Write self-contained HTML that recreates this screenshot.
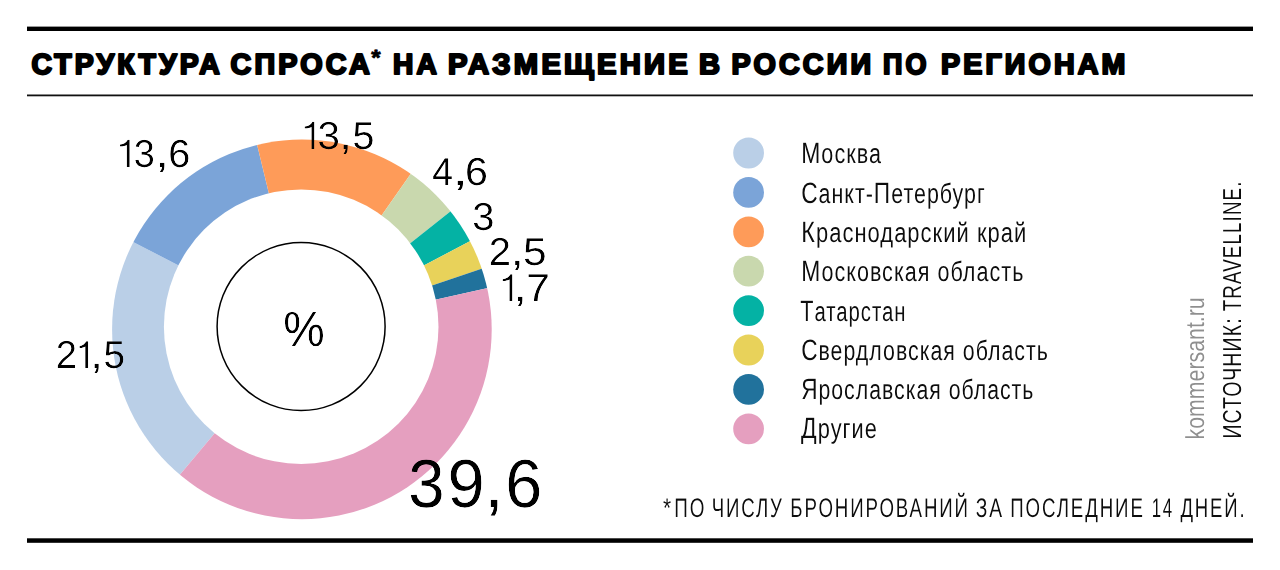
<!DOCTYPE html>
<html><head><meta charset="utf-8"><title>Структура спроса на размещение в России по регионам</title><style>
html,body{margin:0;padding:0;background:#fff;}
body{width:1280px;height:570px;overflow:hidden;}
svg{display:block;font-family:"Liberation Sans",sans-serif;}
</style></head><body>
<svg width="1280" height="570" viewBox="0 0 1280 570">
<rect width="1280" height="570" fill="#fff"/>
<rect x="27" y="26.6" width="1226" height="4.4" fill="#000"/>
<rect x="27" y="94.5" width="1226" height="1.8" fill="#111"/>
<rect x="27" y="538.3" width="1226" height="4.5" fill="#000"/>
<defs><filter id="thn" x="-10%" y="-10%" width="120%" height="120%"><feComponentTransfer><feFuncA type="gamma" amplitude="1" exponent="2.2" offset="0"/></feComponentTransfer></filter><filter id="thl" x="-2%" y="-10%" width="104%" height="120%"><feComponentTransfer><feFuncA type="gamma" amplitude="1" exponent="1.2" offset="0"/></feComponentTransfer></filter><clipPath id="oc"><circle cx="301.9" cy="329.4" r="189.8"/></clipPath></defs>
<g clip-path="url(#oc)">
<path d="M301.90,329.40 L177.97,477.09 A192.80,192.80 0 0 1 130.73,240.67 Z" fill="#bacfe7"/>
<path d="M301.90,329.40 L130.73,240.67 A192.80,192.80 0 0 1 256.43,142.04 Z" fill="#7ba4d8"/>
<path d="M301.90,329.40 L256.43,142.04 A192.80,192.80 0 0 1 412.38,171.39 Z" fill="#fe9b59"/>
<path d="M301.90,329.40 L412.38,171.39 A192.80,192.80 0 0 1 452.83,209.43 Z" fill="#c9d8ae"/>
<path d="M301.90,329.40 L452.83,209.43 A192.80,192.80 0 0 1 472.64,239.84 Z" fill="#04b2a4"/>
<path d="M301.90,329.40 L472.64,239.84 A192.80,192.80 0 0 1 484.54,267.65 Z" fill="#e8d25a"/>
<path d="M301.90,329.40 L484.54,267.65 A192.80,192.80 0 0 1 490.09,287.47 Z" fill="#21729c"/>
<path d="M301.90,329.40 L490.09,287.47 A192.80,192.80 0 0 1 177.97,477.09 Z" fill="#e59fbf"/>
</g>
<circle cx="301.2" cy="326.7" r="137.3" fill="#fff"/>
<circle cx="301.1" cy="326.5" r="84" fill="none" stroke="#000" stroke-width="1.5"/>
<circle cx="748.6" cy="153.00" r="15.4" fill="#bacfe7"/>
<circle cx="748.6" cy="192.40" r="15.4" fill="#7ba4d8"/>
<circle cx="748.6" cy="231.80" r="15.4" fill="#fe9b59"/>
<circle cx="748.6" cy="271.20" r="15.4" fill="#c9d8ae"/>
<circle cx="748.6" cy="310.60" r="15.4" fill="#04b2a4"/>
<circle cx="748.6" cy="350.00" r="15.4" fill="#e8d25a"/>
<circle cx="748.6" cy="389.40" r="15.4" fill="#21729c"/>
<circle cx="748.6" cy="428.80" r="15.4" fill="#e59fbf"/>
<text transform="translate(31.40,74) scale(0.9793,1)" font-size="29" font-weight="bold" letter-spacing="3.2" fill="#000" stroke="#000" stroke-width="2.2" stroke-linejoin="round" word-spacing="-6" text-rendering="geometricPrecision">СТРУКТУРА</text>
<text transform="translate(230.50,74) scale(0.9908,1)" font-size="29" font-weight="bold" letter-spacing="3.2" fill="#000" stroke="#000" stroke-width="2.2" stroke-linejoin="round" word-spacing="-6" text-rendering="geometricPrecision">СПРОСА</text>
<text transform="translate(392.93,74) scale(0.9711,1)" font-size="29" font-weight="bold" letter-spacing="3.2" fill="#000" stroke="#000" stroke-width="2.2" stroke-linejoin="round" word-spacing="-6" text-rendering="geometricPrecision">НА</text>
<text transform="translate(447.89,74) scale(1.0068,1)" font-size="29" font-weight="bold" letter-spacing="3.2" fill="#000" stroke="#000" stroke-width="2.2" stroke-linejoin="round" word-spacing="-6" text-rendering="geometricPrecision">РАЗМЕЩЕНИЕ</text>
<text transform="translate(699.00,74) scale(1.0000,1)" font-size="29" font-weight="bold" letter-spacing="3.2" fill="#000" stroke="#000" stroke-width="2.2" stroke-linejoin="round" word-spacing="-6" text-rendering="geometricPrecision">В</text>
<text transform="translate(731.51,74) scale(0.9892,1)" font-size="29" font-weight="bold" letter-spacing="3.2" fill="#000" stroke="#000" stroke-width="2.2" stroke-linejoin="round" word-spacing="-6" text-rendering="geometricPrecision">РОССИИ</text>
<text transform="translate(883.07,74) scale(0.9283,1)" font-size="29" font-weight="bold" letter-spacing="3.2" fill="#000" stroke="#000" stroke-width="2.2" stroke-linejoin="round" word-spacing="-6" text-rendering="geometricPrecision">ПО</text>
<text transform="translate(941.01,74) scale(0.9859,1)" font-size="29" font-weight="bold" letter-spacing="3.2" fill="#000" stroke="#000" stroke-width="2.2" stroke-linejoin="round" word-spacing="-6" text-rendering="geometricPrecision">РЕГИОНАМ</text>
<text transform="translate(371.20,65) scale(1.0889,1)" font-size="22" font-weight="bold" fill="#000" stroke="#000" stroke-width="0.8" stroke-linejoin="round" text-rendering="geometricPrecision">*</text>
<g filter="url(#thl)">
<text transform="translate(801.25,163) scale(0.7772,1)" font-size="27.8" letter-spacing="1.3" fill="#111" text-rendering="geometricPrecision"><tspan font-size="29.5">М</tspan>осква</text>
<text transform="translate(801.16,203) scale(0.7703,1)" font-size="27.8" letter-spacing="1.3" fill="#111" text-rendering="geometricPrecision"><tspan font-size="29.5">С</tspan>анкт-<tspan font-size="29.5">П</tspan>етербург</text>
<text transform="translate(801.32,242) scale(0.7897,1)" font-size="27.8" letter-spacing="1.3" fill="#111" text-rendering="geometricPrecision"><tspan font-size="29.5">К</tspan>раснодарский край</text>
<text transform="translate(801.35,281) scale(0.7756,1)" font-size="27.8" letter-spacing="1.3" fill="#111" text-rendering="geometricPrecision"><tspan font-size="29.5">М</tspan>осковская область</text>
<text transform="translate(800.37,321) scale(0.7312,1)" font-size="27.8" letter-spacing="1.3" fill="#111" text-rendering="geometricPrecision"><tspan font-size="29.5">Т</tspan>атарстан</text>
<text transform="translate(801.16,360) scale(0.7679,1)" font-size="27.8" letter-spacing="1.3" fill="#111" text-rendering="geometricPrecision"><tspan font-size="29.5">С</tspan>вердловская область</text>
<text transform="translate(801.17,399) scale(0.7653,1)" font-size="27.8" letter-spacing="1.3" fill="#111" text-rendering="geometricPrecision"><tspan font-size="29.5">Я</tspan>рославская область</text>
<text transform="translate(801.10,438) scale(0.7828,1)" font-size="27.8" letter-spacing="1.3" fill="#111" text-rendering="geometricPrecision"><tspan font-size="29.5">Д</tspan>ругие</text>
<text transform="translate(663.12,517) scale(0.7778,1)" font-size="26.8" letter-spacing="2.7" fill="#111" text-rendering="geometricPrecision">*</text>
<text transform="translate(674.19,517) scale(0.7037,1)" font-size="26.8" letter-spacing="2.7" fill="#111" text-rendering="geometricPrecision">ПО</text>
<text transform="translate(711.71,517) scale(0.6949,1)" font-size="26.8" letter-spacing="2.7" fill="#111" text-rendering="geometricPrecision">ЧИСЛУ</text>
<text transform="translate(790.31,517) scale(0.6972,1)" font-size="26.8" letter-spacing="2.7" fill="#111" text-rendering="geometricPrecision">БРОНИРОВАНИЙ</text>
<text transform="translate(975.68,517) scale(0.7167,1)" font-size="26.8" letter-spacing="2.7" fill="#111" text-rendering="geometricPrecision">ЗА</text>
<text transform="translate(1010.21,517) scale(0.6973,1)" font-size="26.8" letter-spacing="2.7" fill="#111" text-rendering="geometricPrecision">ПОСЛЕДНИЕ</text>
<text transform="translate(1151.64,517) scale(0.6300,1)" font-size="26.8" letter-spacing="2.7" fill="#111" text-rendering="geometricPrecision">14</text>
<text transform="translate(1180.40,517) scale(0.6912,1)" font-size="26.8" letter-spacing="2.7" fill="#111" text-rendering="geometricPrecision">ДНЕЙ.</text>
<text transform="rotate(-90) translate(-438.60,1240.8) scale(0.7506,1)" font-size="26" letter-spacing="1.5" fill="#111" text-rendering="geometricPrecision">ИСТОЧНИК:</text>
<text transform="rotate(-90) translate(-311.32,1240.8) scale(0.7239,1)" font-size="26" letter-spacing="1.5" fill="#111" text-rendering="geometricPrecision">TRAVELLINE.</text>
<text transform="rotate(-90) translate(-439.44,1204.3) scale(0.8200,1)" font-size="26" fill="#8f8f8f" text-rendering="geometricPrecision">kommersant.ru</text>
</g>
<g filter="url(#thn)">
<text transform="translate(133.76,167) scale(0.9722,1)" font-size="39" fill="#000" text-rendering="geometricPrecision">3</text>
<text transform="translate(155.23,167) scale(1.2667,1)" font-size="39" fill="#000" text-rendering="geometricPrecision">,</text>
<text transform="translate(168.37,167) scale(1.0167,1)" font-size="39" fill="#000" text-rendering="geometricPrecision">6</text>
<text transform="translate(317.53,149) scale(1.0333,1)" font-size="39" fill="#000" text-rendering="geometricPrecision">3</text>
<text transform="translate(339.23,149) scale(1.1667,1)" font-size="39" fill="#000" text-rendering="geometricPrecision">,</text>
<text transform="translate(352.38,149) scale(1.0111,1)" font-size="39" fill="#000" text-rendering="geometricPrecision">5</text>
<text transform="translate(432.25,185) scale(0.9550,1)" font-size="39" fill="#000" text-rendering="geometricPrecision">4</text>
<text transform="translate(452.33,185) scale(1.4667,1)" font-size="39" fill="#000" text-rendering="geometricPrecision">,</text>
<text transform="translate(464.89,185) scale(1.0556,1)" font-size="39" fill="#000" text-rendering="geometricPrecision">6</text>
<text transform="translate(472.36,230) scale(1.0222,1)" font-size="39" fill="#000" text-rendering="geometricPrecision">3</text>
<text transform="translate(488.86,264.5) scale(1.0222,1)" font-size="39" fill="#000" text-rendering="geometricPrecision">2</text>
<text transform="translate(510.70,264.5) scale(1.2000,1)" font-size="39" fill="#000" text-rendering="geometricPrecision">,</text>
<text transform="translate(523.12,264.5) scale(1.0889,1)" font-size="39" fill="#000" text-rendering="geometricPrecision">5</text>
<text transform="translate(513.57,301) scale(1.2333,1)" font-size="39" fill="#000" text-rendering="geometricPrecision">,</text>
<text transform="translate(526.22,301) scale(1.0889,1)" font-size="39" fill="#000" text-rendering="geometricPrecision">7</text>
<text transform="translate(55.74,368) scale(0.9778,1)" font-size="39" fill="#000" text-rendering="geometricPrecision">2</text>
<text transform="translate(90.23,368) scale(1.1667,1)" font-size="39" fill="#000" text-rendering="geometricPrecision">,</text>
<text transform="translate(103.41,368) scale(0.9944,1)" font-size="39" fill="#000" text-rendering="geometricPrecision">5</text>
<text transform="translate(408.22,507) scale(0.9594,1)" font-size="68" fill="#000" text-rendering="geometricPrecision">3</text>
<text transform="translate(447.46,507) scale(0.9813,1)" font-size="68" fill="#000" text-rendering="geometricPrecision">9</text>
<text transform="translate(483.96,507) scale(1.0571,1)" font-size="68" fill="#000" text-rendering="geometricPrecision">,</text>
<text transform="translate(505.27,507) scale(0.9781,1)" font-size="68" fill="#000" text-rendering="geometricPrecision">6</text>
<text transform="translate(283.22,345.5) scale(0.9425,1)" font-size="49.5" fill="#000" text-rendering="geometricPrecision">%</text>
<path d="M129.70,167.00 L129.70,139.70 L127.70,139.70 C126.40,142.00 123.90,144.20 119.90,144.60 L119.90,146.50 C122.80,146.60 125.40,146.00 126.70,145.00 L126.70,167.00 Z" fill="#000"/>
<path d="M314.40,149.00 L314.40,121.70 L312.40,121.70 C311.10,124.00 308.60,126.20 304.60,126.60 L304.60,128.50 C307.50,128.60 310.10,128.00 311.40,127.00 L311.40,149.00 Z" fill="#000"/>
<path d="M512.40,301.00 L512.40,274.30 L510.40,274.30 C509.10,276.60 506.60,278.80 502.60,279.20 L502.60,281.10 C505.50,281.20 508.10,280.60 509.40,279.60 L509.40,301.00 Z" fill="#000"/>
<path d="M88.20,368.00 L88.20,341.20 L86.20,341.20 C84.90,343.50 82.40,345.70 79.50,346.10 L79.50,348.00 C82.40,348.10 83.90,347.50 85.20,346.50 L85.20,368.00 Z" fill="#000"/>
</g>
</svg>
</body></html>
